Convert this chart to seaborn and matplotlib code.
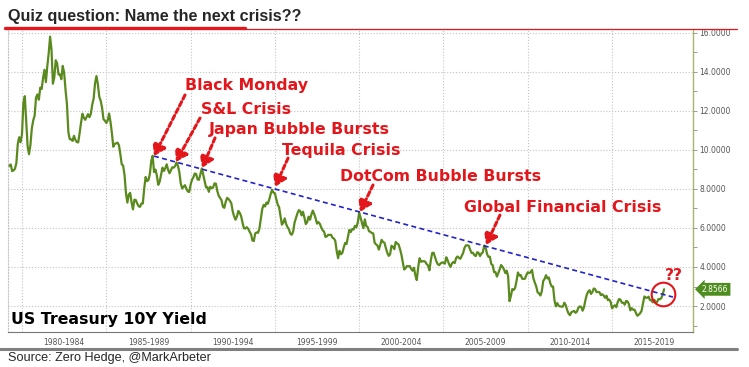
import numpy as np
import pandas as pd
import matplotlib
matplotlib.use("Agg")
import matplotlib.pyplot as plt
import matplotlib.transforms as mtransforms
from matplotlib.lines import Line2D
import seaborn as sns

sns.set_style("white")
plt.rcParams['font.family'] = ['DejaVu Sans']

# US 10Y yield, monthly, starting March 1979
yield_1979 = [9.12, 9.18, 9.25, 8.91, 8.95, 9.03, 9.33, 10.30, 10.65, 10.39]
yield_1980s = [
    10.80, 12.41, 12.75, 11.47, 10.18, 9.78, 10.25, 11.10, 11.51, 11.75, 12.68, 12.84,
    12.57, 13.19, 13.12, 13.68, 14.10, 13.47, 14.28, 14.94, 15.80, 15.15, 13.39, 13.72,
    14.59, 14.43, 13.86, 13.87, 13.62, 14.30, 13.95, 13.06, 12.34, 10.91, 10.55, 10.54,
    10.46, 10.72, 10.51, 10.40, 10.38, 10.85, 11.38, 11.85, 11.65, 11.54, 11.69, 11.83,
    11.67, 11.84, 12.32, 12.63, 13.41, 13.78, 13.36, 12.72, 12.52, 12.16, 11.57, 11.50,
    11.38, 11.51, 11.86, 11.43, 10.85, 10.16, 10.31, 10.33, 10.37, 10.24, 9.78, 9.26,
    9.19, 8.70, 7.78, 7.30, 7.71, 7.80, 7.30, 6.95, 7.45, 7.43, 7.25, 7.11,
    7.08, 7.25, 7.25, 8.02, 8.61, 8.40, 8.45, 8.76, 9.42, 9.70, 8.86, 8.99,
    8.67, 8.21, 8.37, 8.72, 9.09, 8.92, 9.06, 9.26, 8.98, 8.80, 8.96, 9.11,
    9.09, 9.17, 9.36, 9.18, 8.86, 8.28, 8.02, 8.11, 8.19, 8.01, 7.87, 7.84,
]
yield_1990s = [
    8.21, 8.47, 8.59, 8.79, 8.76, 8.48, 8.47, 8.75, 9.05, 8.72, 8.39, 8.08,
    8.09, 7.85, 8.11, 8.04, 8.07, 8.28, 8.27, 7.90, 7.65, 7.53, 7.42, 7.09,
    7.03, 7.34, 7.54, 7.48, 7.39, 7.26, 6.84, 6.59, 6.42, 6.59, 6.87, 6.77,
    6.60, 6.26, 5.98, 5.97, 6.04, 5.96, 5.81, 5.68, 5.36, 5.33, 5.72, 5.77,
    5.75, 5.97, 6.48, 6.97, 7.18, 7.10, 7.30, 7.24, 7.46, 7.74, 7.96, 7.81,
    7.78, 7.47, 7.20, 7.06, 6.63, 6.17, 6.28, 6.49, 6.20, 6.04, 5.93, 5.71,
    5.65, 5.81, 6.27, 6.51, 6.74, 6.91, 6.87, 6.64, 6.83, 6.53, 6.20, 6.30,
    6.58, 6.42, 6.69, 6.89, 6.71, 6.49, 6.22, 6.30, 6.21, 6.03, 5.88, 5.81,
    5.54, 5.57, 5.65, 5.64, 5.65, 5.50, 5.46, 5.34, 4.81, 4.45, 4.83, 4.65,
    4.72, 5.00, 5.23, 5.18, 5.54, 5.90, 5.79, 5.94, 5.92, 6.11, 6.03, 6.28,
]
yield_2000s = [
    6.79, 6.52, 6.26, 5.99, 6.44, 6.10, 6.05, 5.83, 5.80, 5.74, 5.72, 5.24,
    5.16, 5.10, 4.89, 5.14, 5.39, 5.28, 5.24, 4.97, 4.73, 4.57, 4.65, 5.09,
    5.04, 4.91, 5.28, 5.21, 5.16, 4.93, 4.65, 4.26, 3.87, 3.94, 4.05, 4.03,
    4.05, 3.90, 3.81, 3.96, 3.57, 3.33, 3.98, 4.45, 4.27, 4.29, 4.30, 4.27,
    4.15, 4.08, 3.83, 4.35, 4.72, 4.73, 4.50, 4.28, 4.13, 4.10, 4.19, 4.23,
    4.22, 4.17, 4.50, 4.34, 4.14, 4.00, 4.18, 4.26, 4.20, 4.46, 4.54, 4.47,
    4.42, 4.57, 4.72, 4.99, 5.11, 5.11, 5.09, 4.88, 4.72, 4.73, 4.60, 4.56,
    4.76, 4.72, 4.56, 4.69, 4.75, 5.10, 5.00, 4.67, 4.52, 4.53, 4.15, 4.10,
    3.74, 3.74, 3.51, 3.68, 3.88, 4.10, 4.01, 3.89, 3.69, 3.81, 3.53, 2.25,
    2.52, 2.87, 2.82, 2.93, 3.29, 3.72, 3.56, 3.59, 3.40, 3.39, 3.40, 3.59,
]
yield_2010s = [
    3.73, 3.69, 3.73, 3.85, 3.42, 3.20, 3.01, 2.70, 2.65, 2.54, 2.76, 3.29,
    3.39, 3.58, 3.41, 3.46, 3.17, 3.00, 3.00, 2.30, 1.98, 2.15, 2.01, 1.98,
    1.97, 1.97, 2.17, 2.05, 1.80, 1.62, 1.53, 1.68, 1.72, 1.75, 1.65, 1.72,
    1.91, 1.98, 1.96, 1.76, 1.93, 2.30, 2.58, 2.74, 2.81, 2.62, 2.72, 2.90,
    2.86, 2.71, 2.72, 2.71, 2.56, 2.60, 2.54, 2.42, 2.53, 2.30, 2.33, 2.21,
    1.88, 1.98, 2.04, 1.94, 2.20, 2.36, 2.32, 2.17, 2.17, 2.07, 2.26, 2.24,
    2.09, 1.78, 1.89, 1.81, 1.81, 1.64, 1.50, 1.56, 1.63, 1.76, 2.14, 2.49,
    2.43, 2.42, 2.48, 2.30, 2.30, 2.19, 2.32, 2.21, 2.20, 2.36, 2.35, 2.40,
    2.58, 2.86,
]
last_value = 2.8566

trend_years = [1987.83, 2018.61]
trend_values = [9.68, 2.46]

labels = ['Black Monday', 'S&L Crisis', 'Japan Bubble Bursts', 'Tequila Crisis',
          'DotCom Bubble Bursts', 'Global Financial Crisis']
tip_years = [1987.83, 1989.13, 1990.68, 1995.01, 2000.05, 2007.52]
tip_values = [9.68, 9.38, 9.07, 8.10, 6.82, 5.12]
tail_years = [1989.67, 1990.56, 1991.45, 1995.78, 2000.82, 2008.35]
tail_values = [12.81, 11.63, 10.61, 9.58, 8.20, 6.66]
text_years = [1989.67, 1990.62, 1991.09, 1995.42, 1998.86, 2006.22]
text_values = [13.32, 12.09, 11.02, 9.99, 8.66, 7.07]

circle_year, circle_value = 2018.02, 2.61
period_starts = [1980, 1985, 1990, 1995, 2000, 2005, 2010, 2015]

values = yield_1979 + yield_1980s + yield_1990s + yield_2000s + yield_2010s
df = pd.DataFrame({'year': 1979 + 2 / 12 + np.arange(len(values)) / 12, 'yield': values})
trend = pd.DataFrame({'year': trend_years, 'value': trend_values})

RED = '#e3161b'
GREEN = '#5a8a1e'

fig = plt.figure(figsize=(7.49, 3.67), dpi=100)
ax = fig.add_axes([8 / 749, 35 / 367, 685 / 749, 302 / 367])

sns.lineplot(data=df, x='year', y='yield', color=GREEN, lw=1.6, ax=ax)
sns.lineplot(data=trend, x='year', y='value', color='#2323c8', lw=1.2,
             linestyle=(0, (3, 2)), ax=ax)

ax.set_xlim(1979.17, 2019.8)
ax.set_ylim(0.67, 16.14)

# right hand y axis
ax.yaxis.tick_right()
ax.set_yticks(range(2, 17, 2))
ax.set_yticks(range(1, 17, 2), minor=True)
ax.set_yticklabels([f'{v:.4f}' for v in range(2, 17, 2)], fontsize=5.5, color='#555555')
ax.tick_params(axis='y', which='both', direction='out', length=3, width=0.6,
               color='#888888', pad=1.5, right=True, left=False)

# bottom axis with period dividers
ax.set_xticks(period_starts)
ax.set_xticks(range(1980, 2020), minor=True)
ax.set_xticklabels([])
ax.tick_params(axis='x', which='major', direction='out', length=11, width=0.6, color='#999999')
ax.tick_params(axis='x', which='minor', direction='out', length=2.5, width=0.6, color='#999999')
ax.set_xlabel('')
ax.set_ylabel('')
ax.grid(True, which='major', linestyle=':', color='#c4c4c4', lw=0.8)

trans = mtransforms.blended_transform_factory(ax.transData, ax.transAxes)
for s in period_starts:
    ax.text(s + 2.5, -0.034, f'{s}-{s + 4}', transform=trans, ha='center', va='center',
            fontsize=5.5, color='#555555')

for sp in ['top']:
    ax.spines[sp].set_visible(False)
ax.spines['left'].set_linestyle(':')
ax.spines['left'].set_color('#c4c4c4')
ax.spines['right'].set_color('#a8b46e')
ax.spines['right'].set_linewidth(1.0)
ax.spines['bottom'].set_color('#777777')
ax.spines['bottom'].set_linewidth(0.8)

# crisis annotations
for lab, tx, ty, ax0, ay0, px, py in zip(labels, text_years, text_values, tail_years,
                                          tail_values, tip_years, tip_values):
    ax.text(tx, ty, lab, color=RED, fontsize=11.3, fontweight='bold', ha='left', va='center')
    ax.annotate('', xy=(px, py), xytext=(ax0, ay0),
                arrowprops=dict(arrowstyle='-|>,head_length=0.55,head_width=0.35',
                                mutation_scale=12, color=RED, lw=2.2,
                                linestyle=(0, (1.5, 1)), shrinkA=0, shrinkB=0))

ax.plot([circle_year], [circle_value], marker='o', ms=17, mfc='none', mec=RED, mew=1.5)
ax.text(2018.14, 3.54, '??', color=RED, fontsize=11.3, fontweight='bold', ha='left', va='center')

# current value badge
trans_y = mtransforms.blended_transform_factory(ax.transAxes, ax.transData)
ax.text(1 + 9 / 685, last_value, f'{last_value:.4f}', transform=trans_y, ha='left', va='center',
        fontsize=5.5, color='white',
        bbox=dict(boxstyle='larrow,pad=0.25', fc='#4e8d1d', ec='none'))

ax.text(0.004, 0.043, 'US Treasury 10Y Yield', transform=ax.transAxes, fontsize=11.3,
        fontweight='bold', color='black', ha='left', va='center')

# title and source
fig.text(8 / 749, 1 - 17 / 367, 'Quiz question: Name the next crisis??', fontsize=11.6,
         fontweight='bold', family='Liberation Sans', ha='left', va='center')
fig.add_artist(Line2D([5 / 749, 245 / 749], [1 - 27.5 / 367] * 2, color=RED, lw=2.4))
fig.add_artist(Line2D([245 / 749, 737 / 749], [1 - 28.5 / 367] * 2, color=RED, lw=0.9))
fig.add_artist(Line2D([0, 737 / 749], [1 - 349 / 367] * 2, color='#808080', lw=2.2))
fig.text(8 / 749, 1 - 358 / 367, 'Source: Zero Hedge, @MarkArbeter', fontsize=9.1,
         family='Liberation Sans', ha='left', va='center')

fig.savefig('out.png', dpi=100)
